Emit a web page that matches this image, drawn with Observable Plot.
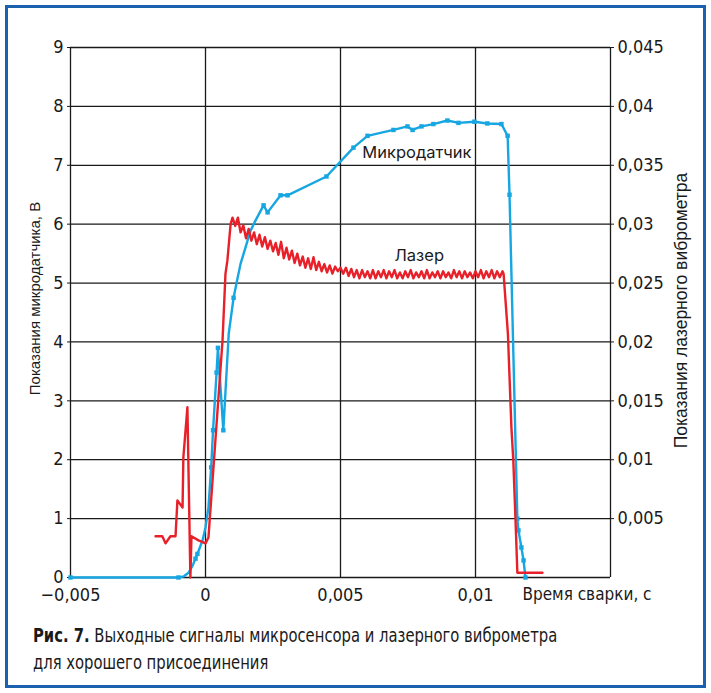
<!DOCTYPE html>
<html><head><meta charset="utf-8">
<script src="https://cdn.jsdelivr.net/npm/d3@7"></script>
<script src="https://cdn.jsdelivr.net/npm/@observablehq/plot@0.6"></script>
<style>
body{margin:0;background:#fff;width:711px;height:693px;position:relative;overflow:hidden}
#frame{position:absolute;left:5px;top:5px;width:701px;height:683px;box-sizing:border-box;border:3px solid #1c61ad}
#chart{position:absolute;left:0;top:0}
#caption{position:absolute;left:33px;top:622px;font-family:"DejaVu Sans Condensed","Liberation Sans Narrow",sans-serif;font-size:19px;line-height:27px;color:#1a1a1a;transform:scaleX(0.865);transform-origin:0 0;white-space:nowrap}
#caption b{font-weight:bold}
</style></head><body>
<div id="frame"></div>
<div id="chart"></div>
<div id="caption"><b>Рис. 7.</b> Выходные сигналы микросенсора и лазерного виброметра<br>для хорошего присоединения</div>
<script>
// X axis (time, s)
const xTicks = [-0.005, 0, 0.005, 0.01];
const xTickLabels = ["−0,005", "0", "0,005", "0,01"];
const xGrid = [-0.005, 0, 0.005, 0.01, 0.015];
// Left axis (microsensor, V)
const leftTicks = [0, 1, 2, 3, 4, 5, 6, 7, 8, 9];
const leftTickLabels = ["0", "1", "2", "3", "4", "5", "6", "7", "8", "9"];
// Right axis (laser vibrometer)
const rightTicks = [1, 2, 3, 4, 5, 6, 7, 8, 9];
const rightTickLabels = ["0,005", "0,01", "0,015", "0,02", "0,025", "0,03", "0,035", "0,04", "0,045"];
const laserPerVolt = 0.005;

// Microsensor series
const mikroT = [-0.005, -0.001, -0.0008, -0.00063, -0.00048, -0.00037, -0.0003, -0.00011, 0, 0.00011,
  0.00021, 0.00028, 0.00041, 0.00046, 0.00066, 0.00086, 0.00104, 0.00119, 0.0013, 0.00148,
  0.00167, 0.00185, 0.00215, 0.0023, 0.00278, 0.00304, 0.00448, 0.00548, 0.006, 0.00696,
  0.00748, 0.00767, 0.008, 0.00844, 0.00896, 0.00937, 0.00996, 0.01044, 0.01096, 0.01119,
  0.01126, 0.01155, 0.01159, 0.0117, 0.01178, 0.01185];
const mikroV = [0, 0, 0.02, 0.08, 0.2, 0.32, 0.40, 0.63, 0.85, 1.19,
  1.87, 2.5, 3.48, 3.9, 2.5, 4.14, 4.75, 5.09, 5.33, 5.6,
  5.89, 6.06, 6.32, 6.2, 6.49, 6.49, 6.81, 7.3, 7.5, 7.6,
  7.66, 7.6, 7.66, 7.7, 7.76, 7.72, 7.74, 7.71, 7.7, 7.5,
  6.5, 1.0, 0.8, 0.51, 0.29, 0];
const mikroMark = [1, 1, 0, 0, 0, 1, 1, 0, 0, 0,
  1, 1, 1, 1, 1, 0, 1, 0, 0, 0,
  0, 0, 1, 1, 1, 1, 1, 1, 1, 1,
  1, 1, 1, 1, 1, 1, 1, 1, 1, 1,
  1, 1, 1, 1, 1, 1];

// Laser vibrometer series
const laserT = [-0.00185, -0.0016, -0.00148, -0.0013, -0.00111, -0.00104, -0.00085, -0.00082, -0.00067, -0.00056,
  -0.00052, -0.00026, 0, 0.00011, 0.00063, 0.00074, 0.00081, 0.00093,
  0.0010, 0.0011, 0.0012, 0.0013, 0.0014, 0.0015, 0.0016, 0.0017, 0.0018, 0.0019,
  0.0020, 0.0021, 0.0022, 0.0023, 0.0024, 0.0025, 0.0026, 0.0027, 0.0028, 0.0029,
  0.0030, 0.0031, 0.0032, 0.0033, 0.0034, 0.0035, 0.0036, 0.0037, 0.0038, 0.0039,
  0.0040, 0.0041, 0.0042, 0.0043, 0.0044, 0.0045, 0.0046, 0.0047, 0.0048, 0.0049,
  0.0050, 0.0051, 0.0052, 0.0053, 0.0054, 0.0055, 0.0056, 0.0057, 0.0058, 0.0059,
  0.0060, 0.0061, 0.0062, 0.0063, 0.0064, 0.0065, 0.0066, 0.0067, 0.0068, 0.0069,
  0.0070, 0.0071, 0.0072, 0.0073, 0.0074, 0.0075, 0.0076, 0.0077, 0.0078, 0.0079,
  0.0080, 0.0081, 0.0082, 0.0083, 0.0084, 0.0085, 0.0086, 0.0087, 0.0088, 0.0089,
  0.0090, 0.0091, 0.0092, 0.0093, 0.0094, 0.0095, 0.0096, 0.0097, 0.0098, 0.0099,
  0.0100, 0.0101, 0.0102, 0.0103, 0.0104, 0.0105, 0.0106, 0.0107, 0.0108, 0.0109,
  0.0110, 0.01104, 0.0112, 0.01133, 0.0114, 0.0115, 0.01155, 0.01248];
const laserVal = [0.0035, 0.0035, 0.0029, 0.0035, 0.0035, 0.00655, 0.00595, 0.0102, 0.01445, 0,
  0.0035, 0.00315, 0.0029, 0.0034, 0.0201, 0.0258, 0.0269, 0.0300,
  0.03055, 0.02985, 0.03055, 0.0293, 0.0299, 0.0288, 0.0296, 0.0286, 0.0293, 0.0283,
  0.0291, 0.0281, 0.0289, 0.0279, 0.0286, 0.0277, 0.0284, 0.0274, 0.0285, 0.0271,
  0.0280, 0.0270, 0.02775, 0.0267, 0.0275, 0.0265, 0.02725, 0.0263, 0.0271, 0.0262,
  0.0272, 0.0261, 0.0268, 0.0260, 0.0266, 0.0259, 0.0265, 0.0258, 0.0264, 0.0260,
  0.0263, 0.0258, 0.0263, 0.0256, 0.0262, 0.0255, 0.0261, 0.0254, 0.0261, 0.0255,
  0.0260, 0.0254, 0.0261, 0.0254, 0.0260, 0.0255, 0.0261, 0.0254, 0.0260, 0.0255,
  0.0261, 0.0254, 0.0259, 0.0254, 0.0260, 0.0255, 0.0261, 0.0254, 0.0259, 0.0255,
  0.0260, 0.0254, 0.0261, 0.0254, 0.0259, 0.0255, 0.0260, 0.0254, 0.0260, 0.0255,
  0.0259, 0.0254, 0.0261, 0.0255, 0.0260, 0.0254, 0.0260, 0.0255, 0.0259, 0.0254,
  0.0260, 0.0255, 0.0261, 0.0254, 0.0260, 0.0255, 0.0261, 0.0254, 0.0260, 0.0255,
  0.0260, 0.0258, 0.0207, 0.01275, 0.00995, 0.00375, 0.0004, 0.0004];

// Series labels
const seriesLabels = ["Микродатчик", "Лазер"];
const seriesLabelT = [0.00581, 0.0070];
const seriesLabelV = [7.22, 5.47];

const mikro = mikroT.map((t, i) => ({t, v: mikroV[i], m: mikroMark[i]}));
const laser = laserT.map((t, i) => ({t, v: laserVal[i] / laserPerVolt}));
const labels = seriesLabels.map((s, i) => ({s, t: seriesLabelT[i], v: seriesLabelV[i]}));

const narrow = '"DejaVu Sans Condensed","Liberation Sans Narrow",sans-serif';
const sans = '"Liberation Sans", Arial, sans-serif';
const blue = "#16a6e2", red = "#e8202a", ink = "#1a1a1a";

const chart = Plot.plot({
  width: 711, height: 610,
  marginLeft: 70, marginRight: 101, marginTop: 47, marginBottom: 33,
  style: {fontFamily: narrow, fontSize: "18px", color: ink, background: "transparent"},
  x: {domain: [-0.005, 0.015]},
  y: {domain: [0, 9]},
  marks: [
    Plot.ruleY(leftTicks, {stroke: ink, strokeWidth: 1.3}),
    Plot.ruleX(xGrid, {stroke: ink, strokeWidth: 1.3}),
    Plot.axisY({ticks: leftTicks, tickFormat: d => leftTickLabels[leftTicks.indexOf(d)], tickSize: 3, tickPadding: 4, label: null, fontSize: 18, stroke: ink}),
    Plot.axisY({anchor: "right", ticks: rightTicks, tickFormat: d => rightTickLabels[rightTicks.indexOf(d)], tickSize: 3, tickPadding: 4, label: null, fontSize: 18, stroke: ink}),
    Plot.axisX({ticks: xTicks, tickFormat: d => xTickLabels[xTicks.indexOf(d)], tickSize: 0, tickPadding: 11, label: null, fontSize: 18}),
    Plot.line(mikro, {x: "t", y: "v", stroke: blue, strokeWidth: 2.4}),
    Plot.dot(mikro.filter(d => d.m), {x: "t", y: "v", symbol: "square", r: 2.5, fill: blue}),
    Plot.line(laser, {x: "t", y: "v", stroke: red, strokeWidth: 2.4}),
    Plot.text(labels, {x: "t", y: "v", text: "s", textAnchor: "start", fontFamily: "Inter, Roboto, sans-serif", fontSize: 16.5, fill: ink}),
    Plot.text(["Показания микродатчика, В"], {frameAnchor: "left", textAnchor: "middle", lineAnchor: "middle", rotate: -90, dx: -35, dy: -14, fontFamily: sans, fontSize: 15, fill: ink}),
    Plot.text(["Показания лазерного виброметра"], {frameAnchor: "right", textAnchor: "middle", lineAnchor: "middle", rotate: -90, dx: 71, dy: -2, fontFamily: sans, fontSize: 17.5, fill: ink}),
    Plot.text(["Время сварки, с"], {frameAnchor: "bottom-right", textAnchor: "start", lineAnchor: "middle", dx: -88, dy: 17, fontSize: 17, fill: ink})
  ]
});
document.getElementById("chart").appendChild(chart);
</script>
</body></html>
